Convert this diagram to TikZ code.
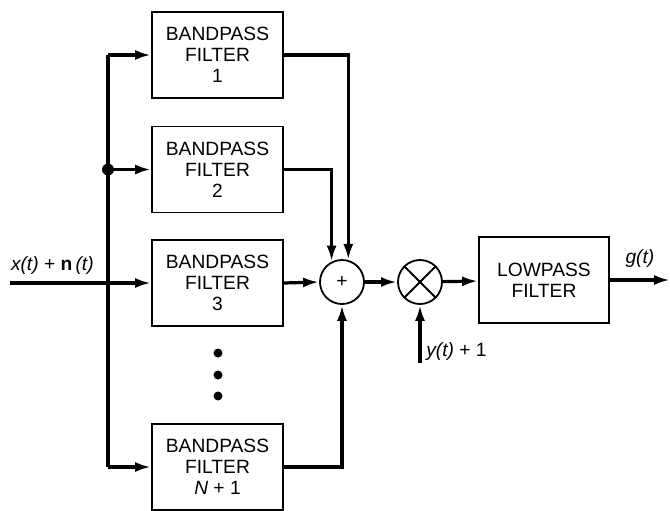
\documentclass[tikz,border=0pt]{standalone}
\usepackage{fontspec}
\setmainfont{Liberation Sans}
\usetikzlibrary{arrows.meta,positioning,calc}

\begin{document}
\begin{tikzpicture}[x=0.5pt,y=-0.5pt,
  filt/.style={draw,line width=0.9pt,minimum width=65.5pt,minimum height=43pt,
    align=center,inner sep=0pt,font=\fontsize{9.6}{10.6}\selectfont},
  sig/.style={line width=1.6pt,-{Latex[length=8pt,width=5pt]}},
  wire/.style={line width=1.6pt},
  junc/.style={draw,circle,line width=0.9pt,minimum size=22pt,inner sep=0pt},
  dotnode/.style={circle,fill,inner sep=0pt,minimum size=4.5pt},
  lbl/.style={font=\fontsize{9.6}{10.6}\selectfont}]
  \useasboundingbox (0,0) rectangle (670,510);

  % filter bank
  \node[filt] (bp1) at (217.5,55) {BANDPASS\\FILTER\\1};
  \node[filt] (bp2) at (217.5,169.5) {BANDPASS\\FILTER\\2};
  \node[filt] (bp3) at (217.5,283) {BANDPASS\\FILTER\\3};
  \node[filt] (bpn) at (217.5,467) {BANDPASS\\FILTER\\\textit{N} + 1};
  \node[dotnode] (d1) at (218,353) {};
  \node[dotnode] (d2) at (218,375) {};
  \node[dotnode] (d3) at (218,396) {};

  % sum, product, lowpass
  \node[junc,lbl] (sum) at (342,282) {+};
  \node[junc] (mul) at (420,282) {};
  \draw[line width=0.9pt] (mul.north west) -- (mul.south east)
    (mul.north east) -- (mul.south west);
  \node[filt,minimum width=65pt] (lpf) at (544,280) {LOWPASS\\FILTER};

  % input and bus
  \coordinate (in) at (10,283);
  \coordinate (busT) at (108,55);
  \coordinate (busB) at (108,467);
  \node[dotnode,minimum size=6pt] (split) at (108,169.5) {};
  \draw[sig] (in) -- (bp3.west) node[lbl,pos=0.3,above] {\textit{x(t)} + \textbf{n}\,\textit{(t)}};
  \draw[wire] (busT) -- (busB);
  \draw[sig] (busT) -- (bp1.west);
  \draw[sig] (split.center) -- (bp2.west);
  \draw[sig] (busB) -- (bpn.west);

  % into the summer
  \draw[sig] (bp1.east) -| (sum.74);
  \draw[sig] (bp2.east) -| (sum.117);
  \draw[sig] (bp3.east) -- (sum.west);
  \draw[sig] (bpn.east) -| (sum.south);

  % output chain
  \coordinate (yin) at (420,363);
  \coordinate (out) at (670,280);
  \draw[sig] (sum) -- (mul);
  \draw[sig] (yin) -- (mul.south) node[lbl,pos=0.2,right,xshift=-1pt] {\textit{y(t)} + 1};
  \draw[sig] (mul) -- (lpf);
  \draw[sig] (lpf) -- (out) node[lbl,midway,above,yshift=2pt] {\textit{g(t)}};
\end{tikzpicture}
\end{document}
